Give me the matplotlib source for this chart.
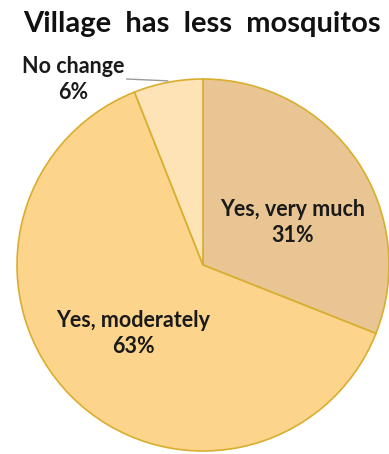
import matplotlib.pyplot as plt

# data
labels = ['Yes, very much', 'Yes, moderately', 'No change']
values = [31, 63, 6]
colors = ['#E8C592', '#FDD48C', '#FEE3B6']
edge = '#D9AE2E'

label_pos = [(0.48, 0.23), (-0.375, -0.37), (-0.70, 0.995)]

fig = plt.figure(figsize=(3.89, 4.54), dpi=100)
ax = fig.add_axes([0, 0, 1, 1])

R = 186.0
cx, cy = 203.0, 265.0

ax.pie(values, colors=colors, startangle=90, counterclock=False, radius=1.0,
       wedgeprops=dict(edgecolor=edge, linewidth=1.2))
ax.set_xlim(-cx / R, (389 - cx) / R)
ax.set_ylim(-(454 - cy) / R, cy / R)
ax.set_aspect('equal')
ax.axis('off')

for lab, v, (x, y) in zip(labels, values, label_pos):
    ax.text(x, y, f'{lab}\n{v}%', ha='center', va='center', fontsize=15.5,
            fontweight='bold', family='Lato', color='#1a1a1a', linespacing=1.3)

# leader line for the small slice
ax.plot([-0.41, -0.19], [1.0, 0.99], color='#9a9a9a', lw=1)

fig.text(0.52, 0.948, 'Village  has  less  mosquitos', ha='center', va='center',
         fontsize=21, fontweight='bold', family='Lato', color='#111111')

fig.savefig('out.png', dpi=100)
